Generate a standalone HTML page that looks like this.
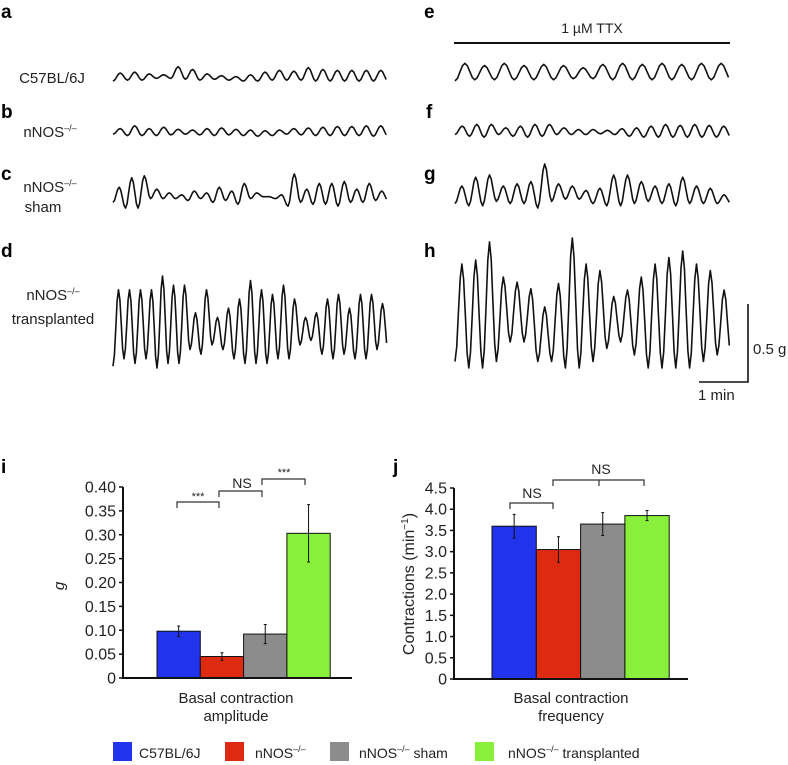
<!DOCTYPE html>
<html><head><meta charset="utf-8"><style>
html,body{margin:0;padding:0;background:#fff;}
svg{display:block;font-family:"Liberation Sans",sans-serif;}
</style></head><body>
<svg id="fig" width="788" height="765" viewBox="0 0 788 765">
<g font-weight="bold" font-size="19" fill="#000">
<text x="1" y="18">a</text>
<text x="1" y="118">b</text>
<text x="1" y="180">c</text>
<text x="1" y="257">d</text>
<text x="424" y="18">e</text>
<text x="426" y="118">f</text>
<text x="424" y="180">g</text>
<text x="424" y="257">h</text>
<text x="1" y="473">i</text>
<text x="393" y="473">j</text>
</g>
<g font-size="15" fill="#222" text-anchor="middle">
<text x="52" y="83">C57BL/6J</text>
<text x="50" y="137">nNOS<tspan font-size="9" dy="-6">–/–</tspan></text>
<text x="50" y="192">nNOS<tspan font-size="9" dy="-6">–/–</tspan></text>
<text x="43" y="212">sham</text>
<text x="53" y="300">nNOS<tspan font-size="9" dy="-6">–/–</tspan></text>
<text x="53" y="324">transplanted</text>
</g>
<text x="592" y="33" font-size="14" text-anchor="middle" fill="#222">1 µM TTX</text>
<line x1="454" y1="43" x2="730" y2="43" stroke="#111" stroke-width="2"/>
<g id="traces" fill="none" stroke="#111" stroke-width="1.6" stroke-linejoin="round"></g>
<g>
<polyline points="748,304 748,382 699,382" fill="none" stroke="#111" stroke-width="1.6"/>
<text x="753" y="354" font-size="15" fill="#222">0.5 g</text>
<text x="698" y="400" font-size="15" fill="#222">1 min</text>
</g>
<g id="chartI"></g>
<g id="chartJ"></g>
<g font-size="14" fill="#222">
<rect x="113" y="742" width="19" height="19" fill="#2233ee"/>
<text x="139" y="758">C57BL/6J</text>
<rect x="225" y="742" width="19" height="19" fill="#dd2a10"/>
<text x="255" y="758">nNOS<tspan font-size="9" dy="-6">–/–</tspan></text>
<rect x="330" y="742" width="19" height="19" fill="#8c8c8c"/>
<text x="359" y="758">nNOS<tspan font-size="9" dy="-6">–/–</tspan><tspan dy="6"> sham</tspan></text>
<rect x="475" y="742" width="19" height="19" fill="#88f03a"/>
<text x="508" y="758">nNOS<tspan font-size="9" dy="-6">–/–</tspan><tspan dy="6"> transplanted</tspan></text>
</g>
</svg>
<script>
const NS="http://www.w3.org/2000/svg";
// trace peak / trough heights (fraction of trace span)
const peaksA=[0.5,0.55,0.45,0.4,0.85,0.7,0.45,0.35,0.3,0.4,0.55,0.65,0.6,0.8,0.7,0.65,0.65,0.65,0.65];
const troughsA=[0.05,0.1,0.1,0.2,0.2,0.15,0.1,0.15,0.1,0.05,0.05,0.1,0.1,0.1,0.05,0.05,0.05,0.05,0.05];
const peaksB=[0.6,0.8,0.6,0.7,0.55,0.5,0.6,0.65,0.55,0.5,0.45,0.5,0.6,0.65,0.7,0.75,0.75,0.8,0.8];
const troughsB=[0.2,0.1,0.1,0.1,0.15,0.2,0.15,0.1,0.15,0.1,0.05,0.1,0.2,0.15,0.1,0.1,0.1,0.1,0.05];
const peaksC=[0.6,0.85,0.9,0.55,0.45,0.4,0.5,0.45,0.6,0.5,0.7,0.45,0.35,0.4,0.95,0.55,0.7,0.7,0.75,0.55,0.7,0.5];
const troughsC=[0.2,0.05,0.05,0.3,0.3,0.3,0.25,0.3,0.2,0.25,0.15,0.3,0.35,0.3,0.1,0.2,0.15,0.15,0.1,0.2,0.2,0.25];
const peaksD=[0.85,0.85,0.85,0.85,1.0,0.9,0.9,0.6,0.85,0.55,0.65,0.75,0.95,0.85,0.8,0.9,0.75,0.55,0.6,0.75,0.8,0.65,0.8,0.8,0.7];
const troughsD=[0.02,0.1,0.05,0.1,0.0,0.05,0.05,0.2,0.15,0.25,0.2,0.1,0.05,0.05,0.05,0.1,0.1,0.25,0.3,0.15,0.1,0.15,0.1,0.1,0.2];
const peaksE=[0.85,0.75,0.85,0.75,0.8,0.75,0.65,0.8,0.85,0.8,0.85,0.8,0.85,0.85];
const troughsE=[0.05,0.1,0.1,0.1,0.1,0.1,0.15,0.15,0.1,0.1,0.1,0.1,0.1,0.1];
const peaksF=[0.7,0.8,0.8,0.6,0.7,0.8,0.8,0.6,0.5,0.5,0.45,0.55,0.6,0.7,0.8,0.75,0.8,0.75,0.7];
const troughsF=[0.2,0.1,0.05,0.2,0.1,0.05,0.1,0.2,0.2,0.2,0.25,0.2,0.1,0.05,0.05,0.05,0.05,0.05,0.05];
const peaksG=[0.5,0.7,0.75,0.5,0.55,0.6,1.0,0.55,0.5,0.4,0.45,0.75,0.75,0.6,0.5,0.55,0.7,0.5,0.45,0.3];
const troughsG=[0.1,0.05,0.05,0.15,0.1,0.1,0.0,0.15,0.2,0.2,0.1,0.05,0.05,0.1,0.15,0.1,0.05,0.1,0.1,0.1];
const peaksH=[0.8,0.83,0.97,0.7,0.66,0.61,0.47,0.65,1.0,0.8,0.75,0.55,0.6,0.7,0.8,0.85,0.9,0.8,0.75,0.6];
const troughsH=[0.05,0.0,0.0,0.05,0.2,0.2,0.05,0.05,0.0,0.0,0.05,0.15,0.2,0.1,0.0,0.0,0.0,0.0,0.05,0.1];
const traces=[
 {name:"trace-a",p:peaksA,t:troughsA,x0:113,x1:388,yb:82,span:18},
 {name:"trace-b",p:peaksB,t:troughsB,x0:113,x1:388,yb:137,span:14},
 {name:"trace-c",p:peaksC,t:troughsC,x0:113,x1:388,yb:210,span:38},
 {name:"trace-d",p:peaksD,t:troughsD,x0:113,x1:388,yb:368,span:92},
 {name:"trace-e",p:peaksE,t:troughsE,x0:455,x1:731,yb:82,span:22},
 {name:"trace-f",p:peaksF,t:troughsF,x0:455,x1:731,yb:138,span:17},
 {name:"trace-g",p:peaksG,t:troughsG,x0:455,x1:731,yb:208,span:44},
 {name:"trace-h",p:peaksH,t:troughsH,x0:455,x1:731,yb:368,span:130}
];
const tg=document.getElementById("traces");
traces.forEach(tr=>{
 const n=tr.p.length, w=(tr.x1-tr.x0)/n, pts=[];
 for(let i=0;i<n;i++){
  const lo=tr.t[i], hi=tr.p[i], lo2=(i+1<n?tr.t[i+1]:tr.t[i]);
  for(let k=0;k<8;k++){
   const f=k/8; let v;
   if(f<0.5){v=lo+(hi-lo)*(1-Math.cos(f*2*Math.PI))/2;}
   else{v=lo2+(hi-lo2)*(1-Math.cos(f*2*Math.PI))/2;}
   pts.push((tr.x0+(i+f)*w).toFixed(1)+","+(tr.yb-v*tr.span).toFixed(1));
  }
 }
 const pl=document.createElementNS(NS,"polyline");
 pl.setAttribute("points",pts.join(" "));
 
 
 tg.appendChild(pl);
});

// bar chart data
const groups=["C57BL/6J","nNOS-/-","nNOS-/- sham","nNOS-/- transplanted"];
const colors=["#2233ee","#dd2a10","#8c8c8c","#88f03a"];
const ampValues=[0.098,0.045,0.092,0.303];
const ampErrors=[0.011,0.008,0.02,0.06];
const ampTicks=["0","0.05","0.10","0.15","0.20","0.25","0.30","0.35","0.40"];
const freqValues=[3.6,3.05,3.65,3.85];
const freqErrors=[0.28,0.3,0.27,0.12];
const freqTicks=["0","0.5","1.0","1.5","2.0","2.5","3.0","3.5","4.0","4.5"];

function el(tag,attrs,parent,text){const e=document.createElementNS(NS,tag);for(const k in attrs)e.setAttribute(k,attrs[k]);if(text!==undefined)e.textContent=text;parent.appendChild(e);return e;}

function drawChart(g,cfg){
 const y=v=>cfg.y0-(v/cfg.max)*(cfg.y0-cfg.yTop);
 const x=i=>cfg.barX0+i*cfg.bw;
 cfg.values.forEach((v,i)=>{
  const r=el("rect",{x:x(i),y:y(v),width:cfg.bw,height:cfg.y0-y(v),fill:colors[i],stroke:"#111","stroke-width":1},g);
  
  
  const cx=x(i)+cfg.bw/2, e=cfg.errors[i];
  const eb=el("path",{d:`M${cx},${y(v+e)}V${y(v-e)}M${cx-1.5},${y(v+e)}H${cx+1.5}M${cx-1.5},${y(v-e)}H${cx+1.5}`,stroke:"#111","stroke-width":1,fill:"none"},g);
  
  
 });
 const ax=el("path",{d:`M${cfg.axX},${cfg.yTop}V${cfg.y0}H${cfg.axEnd}`,stroke:"#111","stroke-width":2,fill:"none"},g);
 
 
 cfg.ticks.forEach((t,i)=>{
  const v=i*cfg.max/(cfg.ticks.length-1);
  const tk=el("line",{x1:cfg.axX-4,x2:cfg.axX,y1:y(v),y2:y(v),stroke:"#111","stroke-width":1.5},g);
  
  
  const tl=el("text",{x:cfg.axX-7,y:y(v)+5.5,"font-size":16,"text-anchor":"end",fill:"#222"},g,t);
  
  
 });
}
const gi=document.getElementById("chartI");
drawChart(gi,{values:ampValues,errors:ampErrors,ticks:ampTicks,max:0.40,y0:678,yTop:487,axX:123,axEnd:352,barX0:157,bw:43.3});
const gj=document.getElementById("chartJ");
drawChart(gj,{values:freqValues,errors:freqErrors,ticks:freqTicks,max:4.5,y0:679,yTop:488,axX:454,axEnd:688,barX0:492,bw:44.3});
</script>
<div style="position:absolute;left:0;top:0;width:788px;height:765px;pointer-events:none">
<svg width="788" height="765" style="font-family:'Liberation Sans',sans-serif">
<g fill="none" stroke="#333" stroke-width="1.2">
<path d="M177,508V502H219V508"/>
<path d="M219,497V491H262V497"/>
<path d="M262,485V479H305V485"/>
<path d="M510,509V503H553V509"/>
<path d="M553,486V480H644V486M599,480V486"/>
</g>
<g fill="#222" font-size="14" text-anchor="middle">
<text x="198" y="500" font-size="11">***</text>
<text x="242" y="488">NS</text>
<text x="284" y="476" font-size="11">***</text>
<text x="532" y="498">NS</text>
<text x="601" y="474">NS</text>
</g>
<text x="56" y="586" font-size="15" font-style="italic" fill="#222" transform="rotate(-90 60 582)" text-anchor="middle">g</text>
<text x="414" y="584" font-size="16" fill="#222" transform="rotate(-90 414 584)" text-anchor="middle">Contractions (min<tspan font-size="10" dy="-6">−1</tspan><tspan dy="6">)</tspan></text>
<g fill="#222" font-size="15" text-anchor="middle">
<text x="236" y="703">Basal contraction</text>
<text x="236" y="721">amplitude</text>
<text x="571" y="703">Basal contraction</text>
<text x="571" y="721">frequency</text>
</g>
</svg></div>
</body></html>
